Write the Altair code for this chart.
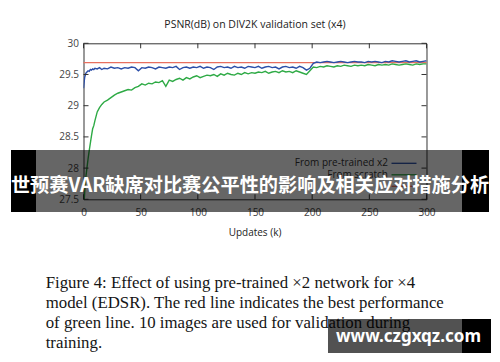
import altair as alt
import pandas as pd

updates = [0, 1, 2, 3, 4, 5, 6, 7, 8, 9, 10, 12, 14, 16, 18,
           21, 24, 27, 30, 33, 36, 39, 42, 45, 48, 51, 54, 57, 60, 63, 66, 69, 72, 75, 78,
           81, 84, 87, 90, 93, 96, 99, 102, 105, 108, 111, 114, 117, 120, 123, 126, 129, 132, 135, 138,
           141, 144, 147, 150, 153, 156, 159, 162, 165, 168, 171, 174, 177, 180, 183, 186, 189, 192, 195, 198,
           201, 204, 207, 210, 213, 216, 219, 222, 225, 228, 231, 234, 237, 240, 243, 246, 249, 252, 255, 258,
           261, 264, 267, 270, 273, 276, 279, 282, 285, 288, 291, 294, 297, 300]

pretrained = [29.28, 29.45, 29.52, 29.54, 29.56, 29.55, 29.58, 29.57, 29.59, 29.58, 29.60, 29.59, 29.61, 29.58, 29.60,
              29.59, 29.62, 29.60, 29.61, 29.59, 29.61, 29.60, 29.62, 29.61, 29.56,
              29.61, 29.60, 29.62, 29.61, 29.59, 29.62, 29.61, 29.60, 29.62, 29.61,
              29.63, 29.58, 29.61, 29.62, 29.60, 29.62, 29.61, 29.63, 29.60, 29.62,
              29.61, 29.58, 29.62, 29.63, 29.61, 29.62, 29.60, 29.63, 29.61, 29.62,
              29.60, 29.63, 29.62, 29.61, 29.63, 29.60, 29.62, 29.63, 29.61, 29.62,
              29.59, 29.62, 29.63, 29.61, 29.62, 29.60, 29.63, 29.61, 29.57, 29.60,
              29.68, 29.70, 29.69, 29.70, 29.71, 29.70, 29.69, 29.70, 29.71, 29.70,
              29.69, 29.70, 29.71, 29.70, 29.70, 29.69, 29.71, 29.70, 29.71, 29.70,
              29.69, 29.71, 29.70, 29.72, 29.71, 29.70, 29.71, 29.72, 29.70, 29.71,
              29.72, 29.70, 29.71, 29.72]

scratch = [27.30, 27.60, 27.85, 28.00, 28.15, 28.28, 28.40, 28.52, 28.63, 28.68, 28.76, 28.90, 28.97, 29.02, 29.06,
           29.09, 29.13, 29.17, 29.20, 29.22, 29.24, 29.26, 29.25, 29.29, 29.31,
           29.35, 29.33, 29.36, 29.35, 29.38, 29.37, 29.40, 29.31, 29.41, 29.39,
           29.42, 29.44, 29.41, 29.45, 29.43, 29.46, 29.48, 29.45, 29.47, 29.49,
           29.48, 29.50, 29.47, 29.51, 29.49, 29.52, 29.50, 29.49, 29.52, 29.50,
           29.53, 29.51, 29.53, 29.52, 29.54, 29.53, 29.55, 29.52, 29.54, 29.55,
           29.53, 29.56, 29.54, 29.55, 29.53, 29.56, 29.54, 29.52, 29.50, 29.56,
           29.62, 29.61, 29.63, 29.62, 29.64, 29.63, 29.62, 29.64, 29.63, 29.65,
           29.64, 29.63, 29.65, 29.64, 29.65, 29.64, 29.66, 29.65, 29.64, 29.66,
           29.65, 29.66, 29.65, 29.67, 29.66, 29.65, 29.66, 29.67, 29.66, 29.65,
           29.67, 29.66, 29.67, 29.67]

best_scratch = [29.69]

series_names = ["From pre-trained x2", "From scratch"]
series_colors = ["#2b4ea8", "#2eaa45"]
best_color = "#e8705f"

x_ticks = [0, 50, 100, 150, 200, 250, 300]
y_ticks = [27.5, 28, 28.5, 29, 29.5, 30]

chart_title = "PSNR(dB) on DIV2K validation set (x4)"
x_title = "Updates (k)"
caption_lines = [
    "Figure 4: Effect of using pre-trained \u00d72 network for \u00d74",
    "model (EDSR). The red line indicates the best performance",
    "of green line. 10 images are used for validation during",
    "training.",
]
banner_text = "世预赛VAR缺席对比赛公平性的影响及相关应对措施分析"
watermark_text = "www.czgxqz.com"

W, H = 343, 156
FONT = "Open Sans"
LBL = "#444444"

df = pd.DataFrame({
    "Updates": updates + updates,
    "PSNR": pretrained + scratch,
    "Series": [series_names[0]] * len(updates) + [series_names[1]] * len(updates),
})

xscale = alt.Scale(domain=[0, 300], nice=False, zero=False)
yscale = alt.Scale(domain=[27.5, 30], nice=False, zero=False)
xaxis = alt.Axis(values=x_ticks, tickSize=0, labelPadding=8, domain=False, grid=False,
                 title=None, labelFont=FONT, labelFontSize=10, labelColor=LBL,
                 labelFlush=False, labelOverlap=False)
yaxis = alt.Axis(values=y_ticks, tickSize=0, labelPadding=5, domain=False, grid=False,
                 title=None, labelFont=FONT, labelFontSize=10, labelColor=LBL,
                 labelFlush=False, labelOverlap=False,
                 labelExpr="datum.value + ''")
X = alt.X("Updates:Q", scale=xscale, axis=xaxis)
Y = alt.Y("PSNR:Q", scale=yscale, axis=yaxis)

one = pd.DataFrame({"k": [0]})

best_rule = alt.Chart(pd.DataFrame({"PSNR": best_scratch})).mark_rule(
    color=best_color, strokeWidth=1.3).encode(y=Y)

lines = alt.Chart(df).mark_line(strokeWidth=1.4, clip=True).encode(
    x=X, y=Y,
    color=alt.Color("Series:N", scale=alt.Scale(domain=series_names, range=series_colors), legend=None),
)

xt = pd.DataFrame({"Updates": x_ticks})
yt = pd.DataFrame({"PSNR": y_ticks})
tick_color = "#333333"
top_ticks = alt.Chart(xt).mark_rule(color=tick_color).encode(x=X, y=alt.value(0), y2=alt.value(5))
bot_ticks = alt.Chart(xt).mark_rule(color=tick_color).encode(x=X, y=alt.value(H - 5), y2=alt.value(H))
left_ticks = alt.Chart(yt).mark_rule(color=tick_color).encode(y=Y, x=alt.value(0), x2=alt.value(5))
right_ticks = alt.Chart(yt).mark_rule(color=tick_color).encode(y=Y, x=alt.value(W - 5), x2=alt.value(W))

title_t = alt.Chart(one).mark_text(font=FONT, fontSize=10.5, color="#222222", baseline="middle").encode(
    x=alt.value(W / 2), y=alt.value(-18.3), text=alt.value(chart_title))
xtitle_t = alt.Chart(one).mark_text(font=FONT, fontSize=10, color="#222222", baseline="middle").encode(
    x=alt.value(W / 2), y=alt.value(189.5), text=alt.value(x_title))

# legend (drawn manually, labels to the left of the samples)
leg_text = [
    alt.Chart(one).mark_text(font=FONT, fontSize=10, color="#333333", align="right", baseline="middle").encode(
        x=alt.value(304.5), y=alt.value(yy), text=alt.value(lab))
    for lab, yy in zip(series_names, [120, 131.5])
]
leg_lines = [
    alt.Chart(one).mark_rule(color=c, strokeWidth=1.3).encode(
        x=alt.value(308), x2=alt.value(333), y=alt.value(yy))
    for c, yy in zip(series_colors + [best_color], [120, 131.5, 143])
]

caption = alt.Chart(one).mark_text(font="Liberation Serif", fontSize=16.8, color="#151515",
                                   align="left", baseline="middle", lineHeight=20).encode(
    x=alt.value(-37.8), y=alt.value(239.7), text=alt.value(caption_lines))

banner_bg = alt.Chart(one).mark_rect(color="#000000", opacity=0.6).encode(
    x=alt.value(-47.5), x2=alt.value(378.5), y=alt.value(106.7), y2=alt.value(168.7))
banner_l = alt.Chart(one).mark_rect(color="#000000").encode(
    x=alt.value(-72.5), x2=alt.value(-47.5), y=alt.value(106.7), y2=alt.value(168.7))
banner_r = alt.Chart(one).mark_rect(color="#000000").encode(
    x=alt.value(378.5), x2=alt.value(405.5), y=alt.value(106.7), y2=alt.value(168.7))
banner_t = alt.Chart(one).mark_text(font="Noto Sans CJK SC", fontWeight="bold", fontSize=19.2,
                                    color="#ffffff", baseline="middle").encode(
    x=alt.value(166.5), y=alt.value(143.2), text=alt.value(banner_text))

wm_bg = alt.Chart(one).mark_rect(color="#000000", opacity=0.68).encode(
    x=alt.value(244.5), x2=alt.value(378.5), y=alt.value(275.7), y2=alt.value(309.7))
wm_r = alt.Chart(one).mark_rect(color="#000000").encode(
    x=alt.value(378.5), x2=alt.value(407.5), y=alt.value(275.7), y2=alt.value(309.7))
wm_t = alt.Chart(one).mark_text(font="Noto Sans", fontWeight="bold", fontSize=17,
                                color="#ffffff", baseline="middle").encode(
    x=alt.value(325), y=alt.value(293.4), text=alt.value(watermark_text))

chart = alt.layer(
    best_rule, lines, top_ticks, bot_ticks, left_ticks, right_ticks,
    title_t, xtitle_t, *leg_text, *leg_lines, caption,
    banner_bg, banner_l, banner_r, banner_t, wm_bg, wm_r, wm_t,
).properties(
    width=W, height=H,
    autosize=alt.AutoSizeParams(type="none"),
    padding={"left": 75.5, "top": 35.3, "right": 65, "bottom": 160},
    background="#ffffff",
).configure_view(stroke="#333333", strokeWidth=1)

chart.save("out.html", embed_options={"renderer": "svg", "actions": False})
